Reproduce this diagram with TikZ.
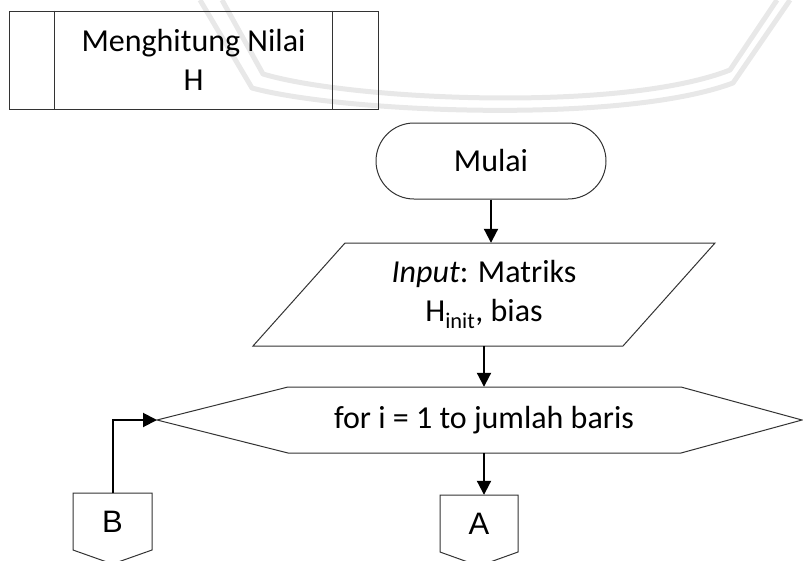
\documentclass[tikz,border=0pt]{standalone}
\usepackage{fontspec}
\setmainfont{Carlito}
\newfontfamily\arialish{Liberation Sans}
\usetikzlibrary{arrows.meta}

\begin{document}
\begin{tikzpicture}[x=1pt,y=-1pt,
  outline/.style={draw=black!80,line width=1pt},
  flow/.style={line width=2pt,-{Triangle[length=14pt,width=14pt]}},
  lbl/.style={font=\fontsize{32}{39}\selectfont,align=center,inner sep=0pt},
  conlbl/.style={font=\arialish\fontsize{31}{36}\selectfont,inner sep=0pt},
  wmark/.style={draw=black!9,line width=5pt,line join=round}]
\useasboundingbox (0,0) rectangle (803,560);
\clip (0,0) rectangle (803,560);

% faint logo arcs in the background
\draw[wmark] (200,0) -- (252,88) .. controls (340,112) and (620,125) .. (733,83) -- (790,0);
\draw[wmark] (222,0) -- (263,74) .. controls (350,100) and (620,113) .. (730,70) -- (777,0);

% predefined process box
\node[outline,lbl,minimum width=369pt,minimum height=98pt] (sub) at (193.5,60) {Menghitung Nilai\\H};
\draw[outline] ([xshift=46pt]sub.north west) -- ([xshift=46pt]sub.south west);
\draw[outline] ([xshift=-46pt]sub.north east) -- ([xshift=-46pt]sub.south east);

% terminator
\node[outline,lbl,rounded corners=38pt,minimum width=230pt,minimum height=76pt] (start) at (491,161) {Mulai};

% input parallelogram
\draw[outline] (345,243) -- (715,243) -- (623,346) -- (253,346) -- cycle;
\node[lbl,minimum width=370pt,minimum height=103pt] (inp) at (484,294.5) {{\itshape Input}: Matriks\\H\textsubscript{init}, bias};

% loop hexagon
\draw[outline] (157,420) -- (288,387) -- (681,387) -- (802,420) -- (681,453) -- (288,453) -- cycle;
\node[lbl,minimum width=390pt,minimum height=66pt] (loop) at (484,420) {for i = 1 to jumlah baris};
\coordinate (loopW) at (157,420);

% off-page connectors
\draw[outline] (440,495) -- (518,495) -- (518,552) -- (479,566) -- (440,552) -- cycle;
\node[conlbl,minimum width=78pt,minimum height=57pt] (A) at (479,523.5) {A};
\draw[outline] (73,493) -- (152,493) -- (152,550) -- (112.5,564) -- (73,550) -- cycle;
\node[conlbl,minimum width=79pt,minimum height=57pt] (B) at (112.5,522) {B};

% connectors
\draw[flow] (start.south) -- (start.south |- inp.north);
\draw[flow] (inp.south) -- (inp.south |- loop.north);
\draw[flow] (loop.south) -- (loop.south |- A.north);
\draw[flow] (B.north) |- (loopW);
\end{tikzpicture}
\end{document}
